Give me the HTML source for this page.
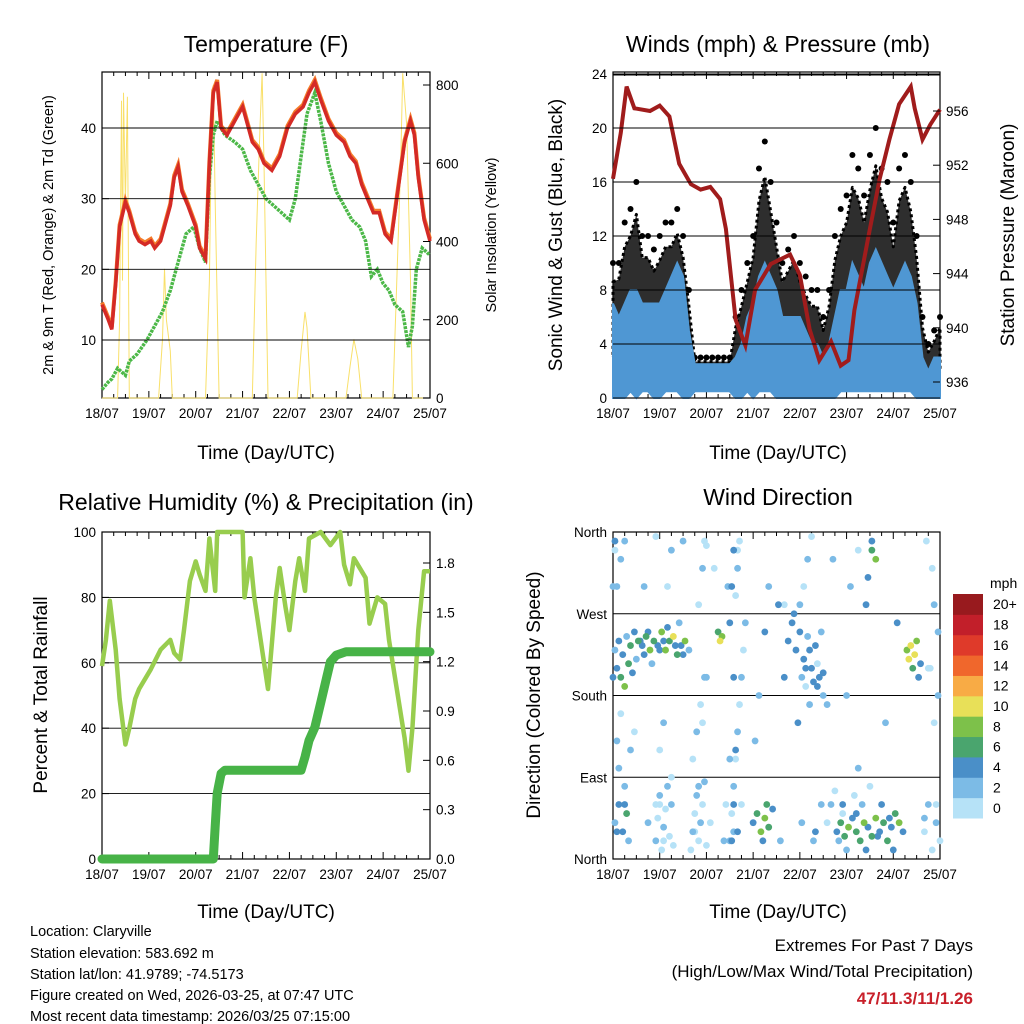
<!DOCTYPE html>
<html><head><meta charset="utf-8"><style>
body{margin:0;background:#fff}
svg{display:block;font-family:"Liberation Sans",sans-serif}
</style></head><body>
<svg id="s" width="1024" height="1024" viewBox="0 0 1024 1024">
<rect width="1024" height="1024" fill="#fff"/>
<text x="266" y="52" font-size="23" text-anchor="middle">Temperature (F)</text>
<text x="778" y="52" font-size="23" text-anchor="middle">Winds (mph) &amp; Pressure (mb)</text>
<text x="266" y="510" font-size="23" text-anchor="middle">Relative Humidity (%) &amp; Precipitation (in)</text>
<text x="778" y="505" font-size="23" text-anchor="middle">Wind Direction</text>
<text x="266" y="459" font-size="19" text-anchor="middle">Time (Day/UTC)</text>
<text x="778" y="459" font-size="19" text-anchor="middle">Time (Day/UTC)</text>
<text x="266" y="918" font-size="19" text-anchor="middle">Time (Day/UTC)</text>
<text x="778" y="918" font-size="19" text-anchor="middle">Time (Day/UTC)</text>
<text transform="translate(53,235) rotate(-90)" font-size="14.5" text-anchor="middle">2m &amp; 9m T (Red, Orange) &amp; 2m Td (Green)</text>
<text transform="translate(496,235) rotate(-90)" font-size="14.5" text-anchor="middle">Solar Insolation (Yellow)</text>
<text transform="translate(562,235) rotate(-90)" font-size="19" text-anchor="middle">Sonic Wind &amp; Gust (Blue, Black)</text>
<text transform="translate(1014,235) rotate(-90)" font-size="19" text-anchor="middle">Station Pressure (Maroon)</text>
<text transform="translate(47,695) rotate(-90)" font-size="19" text-anchor="middle">Percent &amp; Total Rainfall</text>
<text transform="translate(540,695) rotate(-90)" font-size="19" text-anchor="middle">Direction (Colored By Speed)</text>
<g font-size="14.5">
<text x="30" y="936">Location: Claryville</text>
<text x="30" y="958">Station elevation: 583.692 m</text>
<text x="30" y="979">Station lat/lon: 41.9789; -74.5173</text>
<text x="30" y="1000">Figure created on Wed, 2026-03-25, at 07:47 UTC</text>
<text x="30" y="1021">Most recent data timestamp: 2026/03/25 07:15:00</text>
</g>
<text x="973" y="951" font-size="17" text-anchor="end">Extremes For Past 7 Days</text>
<text x="973" y="977" font-size="17" text-anchor="end">(High/Low/Max Wind/Total Precipitation)</text>
<text x="973" y="1004" font-size="17" font-weight="bold" fill="#c8202a" text-anchor="end">47/11.3/11/1.26</text>
</svg>
<script>
const dayLabels=["18/07","19/07","20/07","21/07","22/07","23/07","24/07","25/07"];
const tHours=[0,3,5,7,9,12,14,17,19,22,25,27,30,32,35,37,39,41,44,48,50,53,55,57,59,61,64,68,72,74,77,80,83,87,91,95,99,103,106,109,112,116,120,124,127,130,133,136,139,142,145,148,151,155,158,160,162,165,168];
const tempT=[15,13,11.5,18,26,29.5,28,25,24,23.5,24,23,24,26,29,33,34.5,31,29,26,23,21.5,35,45,46.5,40,39,41,43,41,38,37,35,34,36,40,42,43,45,46.5,44,41,39,38,36,35,32,30,28,28,25,24,30,38,41,39,33,27,24];
const tdHours=[0,3,5,8,12,14,18,23,27,31,35,39,43,47,50,53,55,57,59,63,68,72,76,80,84,88,92,96,99,102,105,109,112,116,120,124,128,132,135,138,141,144,147,150,154,157,159,161,164,168];
const tempTd=[3,4,4.5,6,5,7,8,10,12,14,17,21,25,26,23,21,33,39,41,39,38,37,34,32,30,29,28,27,30,36,42,45,41,35,31,29,27,26,24,19,20,18,17,15,14,9,12,20,23,22];
const solarHours=[0,8,9,10,10.5,11,12,13,14,29,31,32,33,35,36,53,55,56,57,58,60,77,79,81,82,83,85,100,102,104,105,107,125,127,129,131,133,149,151,153,154,156,158,159,168];
const solarVals=[0,0,200,760,300,780,500,770,0,0,150,330,200,120,0,0,300,650,800,500,0,0,400,700,830,600,0,0,120,220,180,0,0,80,150,100,0,0,300,600,830,700,300,0,0];
const wHours=[];for(let h=0;h<=168;h+=3)wHours.push(h);
const gustHi=[10,10,13,14,16,12,12,11,12,13,13,14,12,8,3,3,3,3,3,3,3,6,8,10,12,17,19,16,13,10,11,12,10,9,8,8,6,8,12,14,15,18,17,15,18,20,17,16,13,17,18,16,12,6,4,5,6];
const gustLo=[3,4,4,4,4,4,4,3,3,4,4,5,4,2,1.5,1.5,1.5,1.5,1.5,1.5,1.5,2,2,3,4,5,6,5,4,3,3,3,3,2,2,2,1,2,3,4,5,6,6,5,5,6,6,5,4,5,6,5,4,2,1,1,2];
const windHi=[7,6,7,8,8,7,7,7,7,8,9,10,9,5,2.5,2.5,2.5,2.5,2.5,2.5,2.5,3,4,6,7,9,10,9,8,6,6,6,6,5,4,4,3,4,6,8,8,10,9,8,10,11,10,9,8,9,10,9,7,3,2,3,3];
const windLo=[0,0,0,0.5,0,0.5,0.5,0,0,0.5,0.5,0.5,0,0,0.5,0.5,0.5,0.5,0.5,0.5,0.5,0,0,0.5,0,0.5,0.5,0.5,0,0,0,0,0,0,0,0,0,0,0,0.5,0.5,0.5,0.5,0.5,0.5,0.5,0.5,0.5,0.5,0.5,0.5,0.5,0,0,0,0,0];
const pHours=[0,4,7,11,19,24,29,34,40,45,50,55,58,63,68,73,81,91,96,101,106,112,117,121,124,132,137,142,147,153,155,159,163,168];
const pVals=[951,954.4,957.8,956.2,956,956.4,955.6,952.1,950.6,950.2,950.4,949.5,947.3,940.6,938.7,942.8,944.7,945.4,943.9,939.9,937.6,939,937.2,937.6,941.3,947.3,951,953.9,956.5,957.8,956.2,953.9,955,956.1];
const rhHours=[0,2,4,7,9,12,14,17,19,25,30,35,37,40,42,45,48,50,53,55,58,59,66,72,73,76,78,82,85,89,91,94,96,99,101,104,106,112,117,122,124,127,129,135,137,141,145,147,151,155,157,159,162,165,168];
const rhVals=[59,67,79,64,49,35,40,49,52,58,64,67,63,61,70,85,91,87,82,98,82,100,100,100,80,92,80,64,52,80,89,77,70,85,92,82,98,100,96,100,90,84,92,86,72,80,78,67,52,37,27,40,70,88,88];
const prHours=[0,57,58,59,61,63,102,104,106,109,112,115,117,120,125,168];
const prVals=[0,0,0.2,0.4,0.52,0.54,0.54,0.62,0.72,0.8,0.95,1.1,1.2,1.24,1.26,1.26];
const dirT=[1,2,3,4,5,6,7,8,9,10,11,12,13,1,3,5,7,8,2,4,6,9,11,15,17,19,21,23,25,27,29,31,33,35,37,39,20,28,34,18,22,26,30,42,44,46,48,50,52,54,55,56,57,58,60,47,59,72,74,76,78,80,82,77,79,75,78,80,73,90,92,94,96,98,100,102,104,106,108,93,97,103,107,115,117,119,121,123,125,127,129,131,133,135,137,139,141,143,145,147,149,133,135,120,140,146,151,152,153,154,155,156,157,158,165,166,167,164,16,24,36,64,86,88,110,113,126,160,162];
const dirD=[230,210,240,200,225,190,245,215,235,205,250,220,240,40,60,30,50,20,300,330,350,120,140,235,245,230,240,235,250,230,240,245,225,235,240,230,215,255,260,40,60,20,90,30,80,150,200,40,320,250,240,245,20,60,110,350,300,40,50,30,45,35,55,20,60,180,250,300,130,240,260,230,250,220,245,210,235,200,180,270,40,20,60,30,40,25,35,45,30,20,40,35,25,45,30,40,20,35,50,40,30,340,330,180,150,260,230,220,235,210,225,240,200,215,150,60,250,320,300,60,350,340,20,280,170,330,100,45,210];
const dirS=[2,4,3,6,4,8,2,5,6,4,3,2,5,2,4,3,6,2,1,1,2,1,0,4,6,8,6,4,7,8,6,9,6,4,7,2,2,3,1,1,0,0,0,0,1,0,1,0,0,6,9,7,1,0,1,0,1,4,6,8,7,5,3,4,6,2,3,1,1,3,4,4,3,4,2,3,4,3,2,3,1,2,1,4,6,5,8,4,6,5,7,4,6,8,4,6,5,3,6,8,4,6,8,2,1,3,8,10,9,6,10,7,4,3,0,0,1,0,1,0,2,0,1,0,1,1,2,1,0];
const extraT=[22,23,24,25,26,27,28,29,30,31,24,26,28,30,22,40,41,42,43,44,45,46,47,48,41,43,45,47,44,46,48,60,61,62,63,64,65,66,67,68,63,64,65,62,66,96,98,100,102,97,99,101,105,107,110,112,114,116,118,120,124,128,132,122,126,160,162,164,166,168,167,163,165,161,2,4,6,0,1,3,61,62,63,62,61,62,60,64,88,85,95,99,101,103,105,108,104,118,125,130,136,142,144,138,130,131,133,0,2,6,1,14,16,18,24,26,32,36];
const extraD=[20,45,70,10,35,55,80,25,60,15,120,150,300,340,355,10,30,50,70,20,40,60,85,15,110,140,170,200,280,320,345,20,50,80,110,140,170,200,230,260,290,320,350,30,60,280,300,330,355,200,190,170,215,250,40,60,75,20,50,10,70,60,80,300,340,30,60,10,40,20,180,210,280,350,130,160,80,300,340,100,20,60,120,200,300,340,260,30,200,280,150,210,230,195,190,205,30,60,50,10,25,45,10,60,280,310,350,200,30,60,350,240,225,250,230,240,235,225];
const extraS=[1,0,1,0,1,0,1,0,1,0,0,1,0,1,0,0,1,0,1,0,1,0,1,0,0,1,0,1,0,1,0,1,0,1,0,1,0,1,0,1,0,1,0,1,0,1,0,1,0,1,0,1,0,1,0,1,0,1,0,1,0,1,0,1,0,0,1,0,1,0,1,0,1,0,1,0,1,1,0,1,4,4,4,3,4,4,4,3,4,4,3,4,4,4,4,4,3,4,3,4,4,4,3,4,4,4,4,4,4,4,4,4,4,4,4,3,3,4];
const spdColors=["#b6e2f7","#7cbbe6","#4a8fc8","#4aa56e","#7dc14a","#e8e058","#f8ab45","#f0672c","#df3a2a","#c21f2a","#981a1e"];
const spdLabels=["0","2","4","6","8","10","12","14","16","18","20+"];

const S=document.getElementById('s');const NS='http://www.w3.org/2000/svg';
function el(tag,attrs,parent){const e=document.createElementNS(NS,tag);for(const k in attrs)e.setAttribute(k,attrs[k]);(parent||S).appendChild(e);return e;}
function lin(d0,d1,r0,r1){return v=>r0+(v-d0)/(d1-d0)*(r1-r0);}
function pathOf(xs,ys,X,Y){return xs.map((h,i)=>(i?'L':'M')+X(h).toFixed(1)+','+Y(ys[i]).toFixed(1)).join('');}
function band(xs,hi,lo,X,Y){let d=xs.map((h,i)=>(i?'L':'M')+X(h).toFixed(1)+','+Y(hi[i]).toFixed(1)).join('');for(let i=xs.length-1;i>=0;i--)d+='L'+X(xs[i]).toFixed(1)+','+Y(lo[i]).toFixed(1);return d+'Z';}

function frame(x0,y0,x1,y1,name){
  const g=el('g',{});
  el('rect',{x:x0,y:y0,width:x1-x0,height:y1-y0,fill:'none',stroke:'#000','stroke-width':1.2},g);
  const X=lin(0,168,x0,x1);
  for(let d=0;d<=7;d++){const x=X(d*24);
    el('line',{x1:x,x2:x,y1:y1,y2:y1-7,stroke:'#000'},g);el('line',{x1:x,x2:x,y1:y0,y2:y0+7,stroke:'#000'},g);
    const t=el('text',{x:x,y:y1+20,'font-size':13.5,'text-anchor':'middle'},g);t.textContent=dayLabels[d];
    if(d<7)for(let q=1;q<4;q++){const xm=X(d*24+q*6);el('line',{x1:xm,x2:xm,y1:y1,y2:y1-4,stroke:'#000'},g);el('line',{x1:xm,x2:xm,y1:y0,y2:y0+4,stroke:'#000'},g);}
  }
  return X;
}
function yAxis(x0,x1,Y,ticks,labels,side,grid,name){
  const g=el('g',{});
  ticks.forEach((v,i)=>{const y=Y(v);
    if(grid)el('line',{x1:x0,x2:x1,y1:y,y2:y,stroke:'#000','stroke-width':0.9},g);
    const xa=side==='L'?x0:x1,dir=side==='L'?1:-1;
    el('line',{x1:xa,x2:xa+dir*7,y1:y,y2:y,stroke:'#000'},g);
    if(labels[i]!==''){const t=el('text',{x:side==='L'?x0-6:x1+6,y:y+5,'font-size':13.5,'text-anchor':side==='L'?'end':'start'},g);t.textContent=labels[i];}
  });
}
// ---------- Panel 1 Temperature
{const x0=102,y0=72,x1=430,y1=398;const X=frame(x0,y0,x1,y1,'temperature');
 const Y=lin(10,40,340,128),YS=lin(0,800,398,85);
 const g=el('g',{});
 const sp=el('path',{d:pathOf(solarHours,solarVals,X,YS),fill:'none',stroke:'#f9e06a','stroke-width':1},g);
 const td=el('path',{d:pathOf(tdHours,tempTd,X,Y),fill:'none',stroke:'#4cb848','stroke-width':3.5,'stroke-dasharray':'3 1'},g);
 const to=el('path',{d:pathOf(tHours,tempT.map(v=>v+0.3),X,Y),fill:'none',stroke:'#f47b2a','stroke-width':4},g);
 const tr=el('path',{d:pathOf(tHours,tempT,X,Y),fill:'none',stroke:'#d42a26','stroke-width':3.5},g);
 yAxis(x0,x1,Y,[10,20,30,40],['10','20','30','40'],'L',true,'temp-y-axis');
 yAxis(x0,x1,YS,[0,200,400,600,800],['0','200','400','600','800'],'R',false,'solar-y-axis');
}
// ---------- Panel 2 Winds
{const x0=613,y0=72,x1=940,y1=398;const X=frame(x0,y0,x1,y1,'winds');
 const Y=lin(0,24,398,74),YP=lin(936,956,382,111);
 el('line',{x1:x0,x2:x1,y1:75,y2:75,stroke:'#000'});
 const g=el('g',{});
 const gb=el('path',{d:band(wHours,gustHi.map((v,i)=>gustLo[i]+(v-gustLo[i])*0.8),gustLo,X,Y),fill:'#111','fill-opacity':0.88,stroke:'#000','stroke-width':3,'stroke-dasharray':'3 3','stroke-linejoin':'round'},g);
 wHours.forEach((h,i)=>{const c=el('circle',{cx:X(h),cy:Y(gustHi[i]),r:3,fill:'#000'},g);});
 const wb=el('path',{d:band(wHours,windHi,windLo,X,Y),fill:'#4f97d3',stroke:'#4f97d3','stroke-width':2},g);
 yAxis(x0,x1,Y,[0,4,8,12,16,20,24],['0','4','8','12','16','20','24'],'L',true,'wind-y-axis');
 const pl=el('path',{d:pathOf(pHours,pVals,X,YP),fill:'none',stroke:'#a01c1c','stroke-width':4},g);
 yAxis(x0,x1,YP,[936,940,944,948,952,956],['936','940','944','948','952','956'],'R',false,'pressure-y-axis');
}
// ---------- Panel 3 RH
{const x0=102,y0=532,x1=430,y1=859;const X=frame(x0,y0,x1,y1,'humidity');
 const Y=lin(0,100,859,532),YR=lin(0,1.8,859,563);
 yAxis(x0,x1,Y,[0,20,40,60,80,100],['0','20','40','60','80','100'],'L',true,'rh-y-axis');
 yAxis(x0,x1,YR,[0,0.3,0.6,0.9,1.2,1.5,1.8],['0.0','0.3','0.6','0.9','1.2','1.5','1.8'],'R',false,'precip-y-axis');
 const g=el('g',{});
 const rl=el('path',{d:pathOf(rhHours,rhVals,X,Y),fill:'none',stroke:'#98cd4e','stroke-width':4.5,'stroke-linejoin':'round'},g);
 const pr=el('path',{d:pathOf(prHours,prVals,X,YR),fill:'none',stroke:'#47b347','stroke-width':9,'stroke-linejoin':'round','stroke-linecap':'round'},g);
}
// ---------- Panel 4 direction
{const x0=613,y0=532,x1=940,y1=859;const X=frame(x0,y0,x1,y1,'direction');
 const Y=lin(0,360,859,532);
 const names=['North','East','South','West','North'];
 const g0=el('g',{});
 [0,90,180,270,360].forEach((v,i)=>{const y=Y(v);el('line',{x1:x0,x2:x1,y1:y,y2:y,stroke:'#000','stroke-width':0.9},g0);const t=el('text',{x:x0-6,y:y+5,'font-size':13.5,'text-anchor':'end'},g0);t.textContent=names[i];});
 const g=el('g',{});
 const allT=dirT.concat(extraT),allD=dirD.concat(extraD),allS=dirS.concat(extraS);
 const order=allT.map((_,i)=>i).sort((a,b)=>allS[a]-allS[b]);
 order.forEach(i=>{const k=Math.min(10,Math.round(allS[i]/2));const c=el('circle',{cx:X(allT[i]),cy:Y(allD[i]),r:3.4,fill:spdColors[k]},g);});
 const lg=el('g',{});
 const tt=el('text',{x:990,y:588,'font-size':14,'text-anchor':'start'},lg);tt.textContent='mph';
 const bh=224/11;
 spdColors.forEach((c,i)=>{const y=818-(i+1)*bh;el('rect',{x:953,y:y,width:30,height:bh+0.5,fill:c},lg);const t=el('text',{x:993,y:y+bh/2+5,'font-size':14},lg);t.textContent=spdLabels[i];});
}
</script>
</body></html>
